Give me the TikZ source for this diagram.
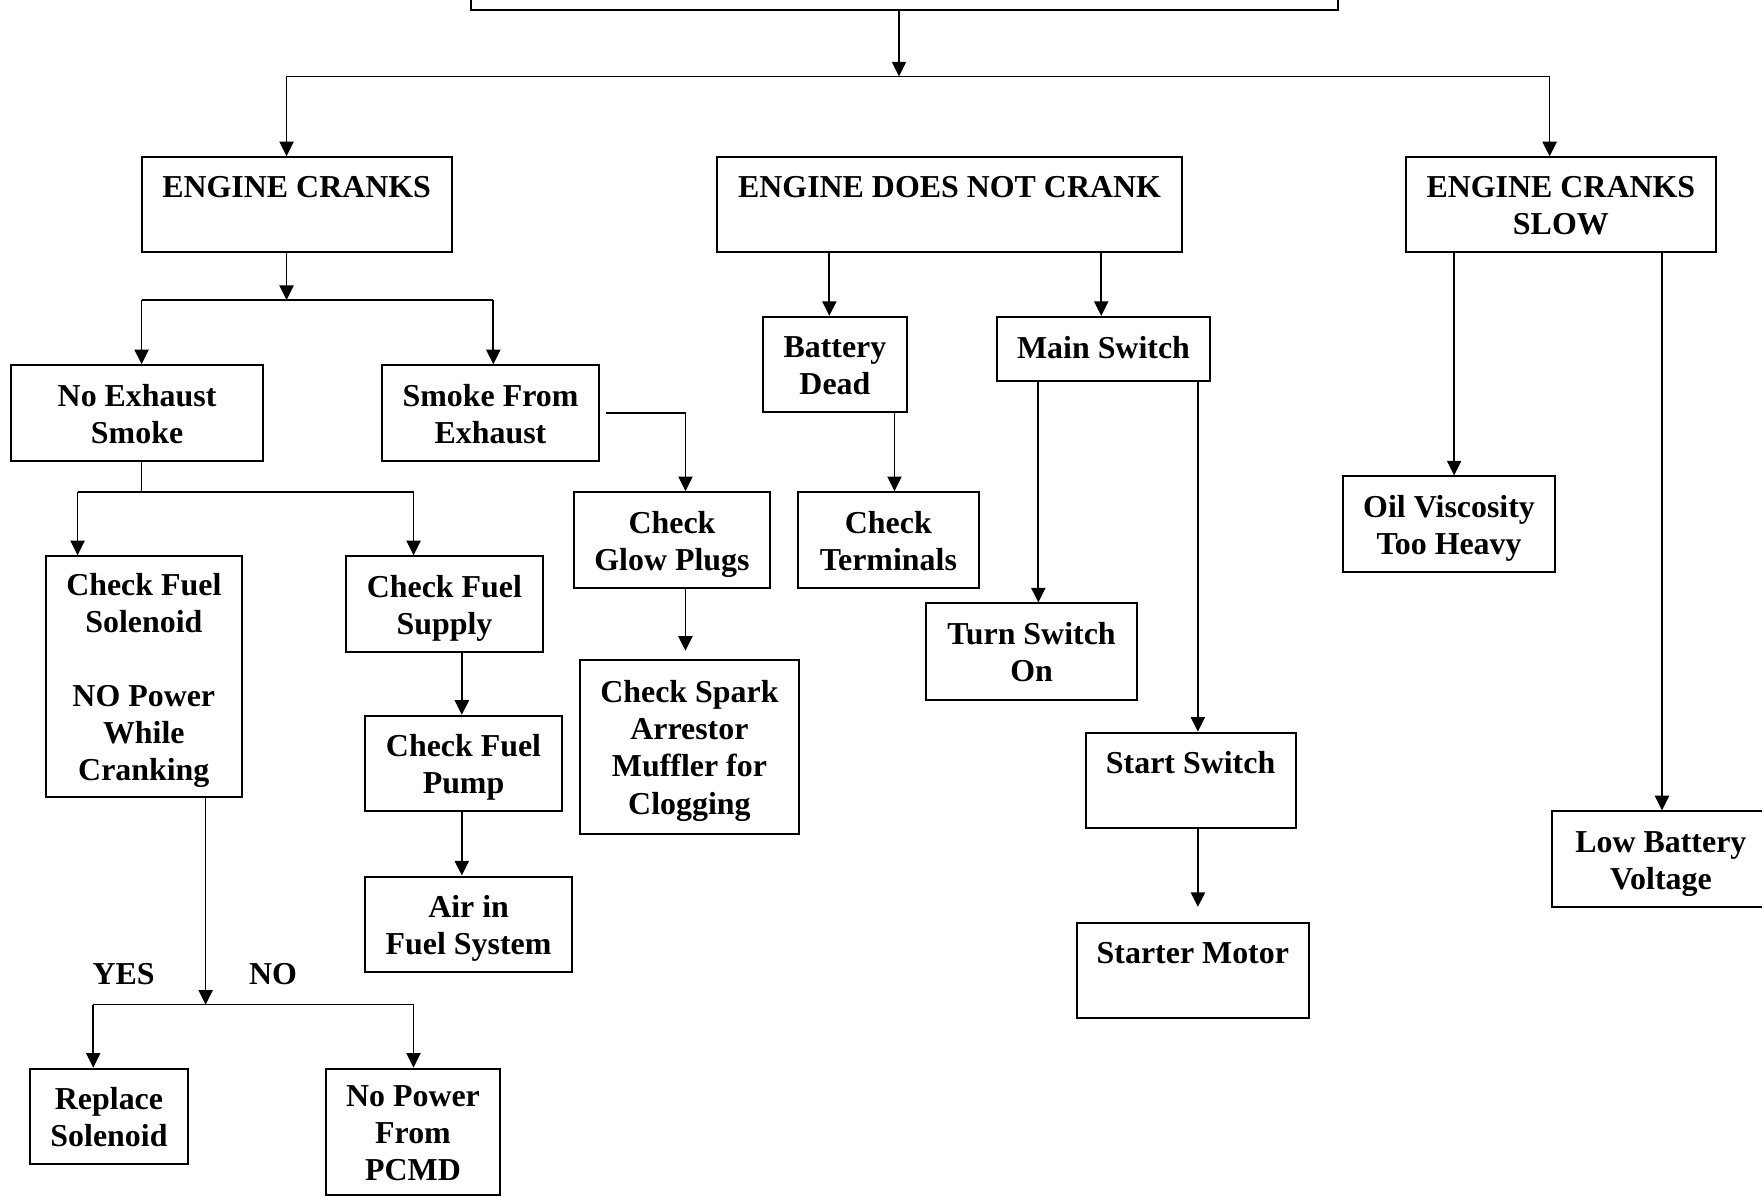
\documentclass[tikz,border=0pt]{standalone}
\usepackage{fontspec}
\setmainfont{Liberation Serif}
\usetikzlibrary{arrows.meta}
\newcommand\topstrut{\rule{0pt}{13.6pt}}
\newcommand\botstrut{\rule[-3.2pt]{0pt}{3.2pt}}
\newcommand\mkbox[6]{\node[box,minimum width={(#4-#2)*0.5pt},minimum height={(#5-#3)*0.5pt}] (#1) at ({(#2+#4)/2},{(#3+#5)/2}) {\topstrut#6\botstrut};}
\begin{document}
\begin{tikzpicture}[x=0.5pt,y=-0.5pt,
  box/.style={draw,line width=0.9pt,align=center,inner sep=0pt,font=\fontsize{14.2}{16.5}\selectfont\bfseries},
  lbl/.style={inner sep=0pt,font=\fontsize{14.2}{16.5}\selectfont\bfseries},
  ln/.style={line width=0.75pt},
  arr/.style={line width=0.75pt,-{Triangle[length=6.5pt,width=6.3pt]}}]
\fill[white] (0,0) rectangle (1568,1065);
\useasboundingbox (0,0) rectangle (1568,1065);
% boxes
\mkbox{top}{419}{-40}{1191}{9}{}
\mkbox{ec}{126}{140}{402}{224}{ENGINE CRANKS\\~}
\mkbox{enc}{638}{140}{1052}{224}{ENGINE DOES NOT CRANK\\~}
\mkbox{ecs}{1251}{140}{1527}{224}{ENGINE CRANKS\\SLOW}
\mkbox{nes}{10}{325}{234}{410}{No Exhaust\\Smoke}
\mkbox{sfe}{340}{325}{533}{410}{Smoke From\\Exhaust}
\mkbox{bd}{679}{282}{807}{367}{Battery\\Dead}
\mkbox{ms}{887}{282}{1077}{339}{\raisebox{1pt}{Main Switch}}
\mkbox{cfs}{41}{495}{215}{709}{Check Fuel\\Solenoid\\~\\NO Power\\While\\Cranking}
\mkbox{cfsup}{308}{495}{483}{580}{Check Fuel\\Supply}
\mkbox{cgp}{511}{438}{685}{523}{Check\\Glow Plugs}
\mkbox{ct}{710}{438}{871}{523}{Check\\Terminals}
\mkbox{ov}{1195}{424}{1384}{509}{Oil Viscosity\\Too Heavy}
\mkbox{tso}{824}{537}{1012}{623}{Turn Switch\\On}
\mkbox{csa}{516}{587}{711}{742}{Check Spark\\Arrestor\\Muffler for\\Clogging}
\mkbox{cfp}{325}{637}{500}{722}{Check Fuel\\Pump}
\mkbox{ss}{966}{652}{1153}{737}{Start Switch\\~}
\mkbox{lbv}{1381}{722}{1575}{807}{Low Battery\\Voltage}
\mkbox{aif}{325}{780}{509}{865}{Air in\\Fuel System}
\mkbox{sm}{958}{821}{1165}{906}{Starter Motor\\~}
\mkbox{rs}{27}{951}{167}{1036}{Replace\\Solenoid}
\mkbox{npp}{290}{951}{445}{1063}{No Power\\From\\PCMD}
\node[lbl] (yes) at (110,867) {YES};
\node[lbl] (no) at (243,867) {NO};
% coordinates
\coordinate (j0) at (800,68);
\coordinate (j0L) at (255,68);
\coordinate (j0R) at (1379,68);
\coordinate (j1) at (255,267);
\coordinate (j1L) at (126,267);
\coordinate (j1R) at (439,267);
\coordinate (j2) at (610,367);
\coordinate (j3) at (126,438);
\coordinate (j3L) at (69,438);
\coordinate (j3R) at (368,438);
\coordinate (j4) at (183,894);
\coordinate (j4L) at (83,894);
\coordinate (j4R) at (368,894);
\coordinate (x411) at (411,0);
\coordinate (x738) at (738,0);
\coordinate (x796) at (796,0);
\coordinate (x980) at (980,0);
\coordinate (x924) at (924,0);
\coordinate (x1066) at (1066,0);
\coordinate (x1294) at (1294,0);
\coordinate (x1479) at (1479,0);
\coordinate (csaTop) at ([yshift=3.5pt]csa.north);
\coordinate (smTop) at ([yshift=6.5pt]sm.north);
\coordinate (sfeOut) at ([xshift=2.5pt]sfe.east);
% connectors
\draw[arr] (top.south -| j0) -- (j0);
\draw[ln] (j0L) -- (j0R);
\draw[arr] (j0L) -- (j0L |- ec.north);
\draw[arr] (j0R) -- (j0R |- ecs.north);
\draw[arr] (ec.south -| j1) -- (j1);
\draw[ln] (j1L) -- (j1R);
\draw[arr] (j1L) -- (j1L |- nes.north);
\draw[arr] (j1R) -- (j1R |- sfe.north);
\draw[arr] (sfeOut) -| (j2 |- cgp.north);
\draw[arr] (cgp.south -| j2) -- (j2 |- csaTop);
\draw[ln] (nes.south -| j3) -- (j3);
\draw[ln] (j3L) -- (j3R);
\draw[arr] (j3L) -- (j3L |- cfs.north);
\draw[arr] (j3R) -- (j3R |- cfsup.north);
\draw[arr] (cfsup.south -| x411) -- (cfp.north -| x411);
\draw[arr] (cfp.south -| x411) -- (aif.north -| x411);
\draw[arr] (cfs.south -| j4) -- (j4);
\draw[ln] (j4L) -- (j4R);
\draw[arr] (j4L) -- (j4L |- rs.north);
\draw[arr] (j4R) -- (j4R |- npp.north);
\draw[arr] (enc.south -| x738) -- (bd.north -| x738);
\draw[arr] (bd.south -| x796) -- (ct.north -| x796);
\draw[arr] (enc.south -| x980) -- (ms.north -| x980);
\draw[arr] (ms.south -| x924) -- (tso.north -| x924);
\draw[arr] (ms.south -| x1066) -- (ss.north -| x1066);
\draw[arr] (ss.south -| x1066) -- (smTop -| x1066);
\draw[arr] (ecs.south -| x1294) -- (ov.north -| x1294);
\draw[arr] (ecs.south -| x1479) -- (lbv.north -| x1479);
\end{tikzpicture}
\end{document}
